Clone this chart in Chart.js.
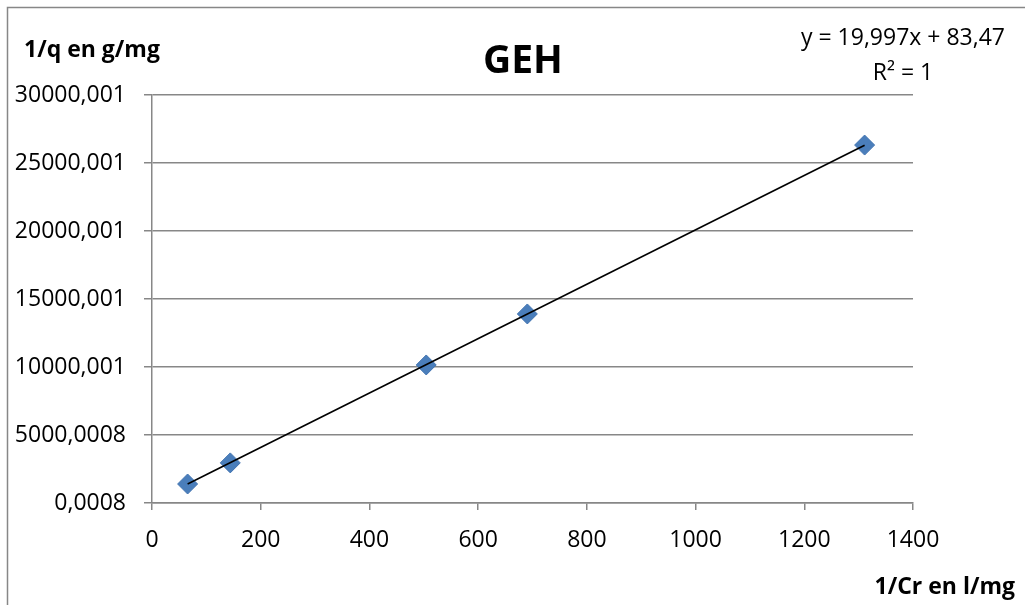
<!DOCTYPE html>
<html>
<head>
<meta charset="utf-8">
<script src="https://cdn.jsdelivr.net/npm/chart.js@4/dist/chart.umd.min.js"></script>
<style>
  html, body { margin: 0; padding: 0; background: #ffffff; }
  #wrap { width: 1025px; height: 605px; }
</style>
</head>
<body>
<div id="wrap"><canvas id="c" width="1025" height="605"></canvas></div>
<script>
// Measurements: 1/Cr (l/mg) against 1/q (g/mg)
const invCr = [65.5, 144, 504.5, 690.5, 1311];
const invQ = [1396, 2950, 10150, 13900, 26320];

// Linear fit reported on the chart
const fitSlope = [19.997];
const fitIntercept = [83.47];
const fitLabel = ['y = 19,997x + 83,47', 'R² = 1'];

// Axis tick labels
const yTickLabels = ['0,0008', '5000,0008', '10000,001', '15000,001', '20000,001', '25000,001', '30000,001'];
const xTickValues = [0, 200, 400, 600, 800, 1000, 1200, 1400];
const xTickLabels = ['0', '200', '400', '600', '800', '1000', '1200', '1400'];

const chartTitle = 'GEH';
const yTitle = '1/q en g/mg';
const xTitle = '1/Cr en l/mg';

const FONT = "'Open Sans', 'Liberation Sans', sans-serif";
const GRID = '#878787';

const points = invCr.map((x, i) => ({ x: x, y: invQ[i] }));
const xMin = Math.min(...invCr), xMax = Math.max(...invCr);
const fitLine = [xMin, xMax].map(x => ({ x: x, y: fitSlope[0] * x + fitIntercept[0] }));

// Frame, title, axis titles and fit equation
const decorations = {
  id: 'decorations',
  beforeDraw(chart) {
    const ctx = chart.ctx;
    ctx.save();
    ctx.strokeStyle = GRID;
    ctx.lineWidth = 1.5;
    ctx.beginPath();
    ctx.moveTo(7.5, 605);
    ctx.lineTo(7.5, 7.5);
    ctx.lineTo(1025, 7.5);
    ctx.stroke();
    ctx.restore();
  },
  afterDraw(chart) {
    const ctx = chart.ctx;
    ctx.save();
    ctx.fillStyle = '#000';
    ctx.textBaseline = 'alphabetic';

    ctx.font = 'bold 39px ' + FONT;
    ctx.textAlign = 'center';
    ctx.fillText(chartTitle, 523, 73);

    ctx.font = 'bold 23px ' + FONT;
    ctx.textAlign = 'left';
    ctx.fillText(yTitle, 24, 57);

    ctx.textAlign = 'right';
    ctx.fillText(xTitle, 1015, 594);

    ctx.font = '23px ' + FONT;
    ctx.textAlign = 'center';
    ctx.fillText(fitLabel[0], 903, 45);
    ctx.fillText(fitLabel[1], 903, 80);
    ctx.restore();
  }
};

new Chart(document.getElementById('c'), {
  type: 'scatter',
  data: {
    datasets: [
      {
        label: 'Tendance',
        type: 'line',
        data: fitLine,
        borderColor: '#000000',
        borderWidth: 1.6,
        pointRadius: 0,
        fill: false,
        order: 0
      },
      {
        label: 'GEH',
        data: points,
        pointStyle: 'rectRot',
        pointRadius: 10,
        pointHoverRadius: 10,
        backgroundColor: '#4a7ebb',
        borderColor: '#4274b0',
        borderWidth: 1,
        order: 1
      }
    ]
  },
  options: {
    responsive: false,
    animation: false,
    layout: { padding: { left: 0, top: 95, right: 112, bottom: 0 } },
    plugins: {
      legend: { display: false },
      title: { display: false },
      tooltip: { enabled: false }
    },
    scales: {
      x: {
        type: 'linear',
        min: xTickValues[0],
        max: xTickValues[xTickValues.length - 1],
        afterBuildTicks(scale) {
          scale.ticks = xTickValues.map(v => ({ value: v }));
        },
        afterFit(scale) { scale.height = 102; },
        grid: {
          drawOnChartArea: false,
          drawTicks: true,
          tickLength: 7,
          color: GRID,
          lineWidth: 1.5
        },
        border: { display: true, color: GRID, width: 1.5 },
        ticks: {
          color: '#000',
          font: { family: FONT, size: 23 },
          padding: 17,
          maxRotation: 0,
          callback: (value, index) => xTickLabels[index]
        }
      },
      y: {
        type: 'linear',
        min: 0,
        max: 30000,
        ticks: {
          stepSize: 5000,
          color: '#000',
          font: { family: FONT, size: 23 },
          padding: 18,
          callback: (value, index) => yTickLabels[index]
        },
        afterFit(scale) { scale.width = 152; },
        grid: {
          drawOnChartArea: true,
          drawTicks: true,
          tickLength: 8,
          color: GRID,
          lineWidth: 1.5
        },
        border: { display: true, color: GRID, width: 1.5 }
      }
    }
  },
  plugins: [decorations]
});
</script>
</body>
</html>
